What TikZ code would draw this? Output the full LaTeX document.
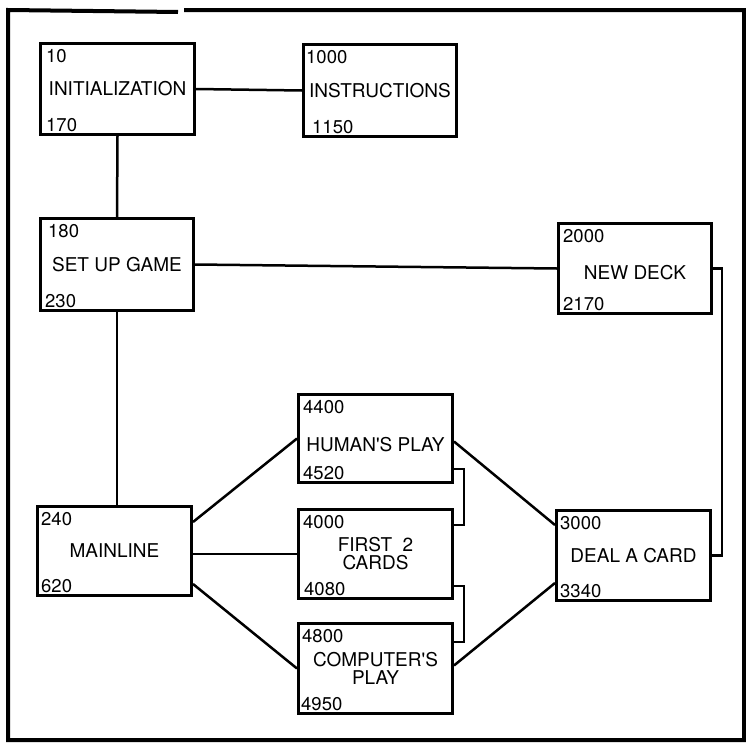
\documentclass[tikz,border=0pt]{standalone}
\usepackage{fontspec}
\setmainfont{TeX Gyre Heros}
\newcommand\boxnums[5]{%
  \node[num] (#1t) at ([shift={(#4,20)}]#1.north west) {#2};
  \node[num] (#1b) at ([shift={(#5,-5)}]#1.south west) {#3};}
\begin{document}
\begin{tikzpicture}[x=1pt,y=-1pt,
  blk/.style={draw, line width=3pt, inner sep=0pt, align=center,
    font=\fontsize{19}{18}\selectfont},
  num/.style={inner sep=0pt, anchor=base west, font=\fontsize{18.5}{18}\selectfont},
  conn/.style={line width=2.5pt}]
\useasboundingbox (0,0) rectangle (746,744);
% frame
\draw[line width=4pt] (184,10) -- (744,10) -- (744,740) -- (8,740) -- (8,10) -- (178,12);
% boxes
\node[blk, minimum width=154pt, minimum height=91pt] (init) at (117.5,89) {INITIALIZATION};
\node[blk, minimum width=153pt, minimum height=92pt] (instr) at (380,90.5) {INSTRUCTIONS};
\node[blk, minimum width=153pt, minimum height=92pt] (setup) at (117,264.5) {SET UP GAME};
\node[blk, minimum width=153pt, minimum height=90pt, text depth=0pt] (newdeck) at (635,268.5) {\raisebox{-8pt}{NEW DECK}};
\node[blk, minimum width=154pt, minimum height=89pt] (mainline) at (114.5,551) {MAINLINE};
\node[blk, minimum width=154pt, minimum height=88pt, text depth=0pt] (human) at (375.5,438.5) {\raisebox{-12pt}{HUMAN\textquotesingle S PLAY}};
\node[blk, minimum width=154pt, minimum height=89pt] (first) at (375.5,554) {FIRST\ \ 2\\CARDS};
\node[blk, minimum width=154pt, minimum height=90pt] (computer) at (375.5,668.5) {COMPUTER\textquotesingle S\\PLAY};
\node[blk, minimum width=154pt, minimum height=90pt] (deal) at (633.5,555.5) {DEAL A CARD};
% line numbers
\boxnums{init}{10}{170}{7}{7}
\boxnums{instr}{1000}{1150}{4}{10}
\boxnums{setup}{180}{230}{9}{6}
\boxnums{newdeck}{2000}{2170}{6}{6}
\boxnums{mainline}{240}{620}{5}{5}
\boxnums{human}{4400}{4520}{6}{6}
\boxnums{first}{4000}{4080}{6}{7}
\boxnums{computer}{4800}{4950}{5}{4}
\boxnums{deal}{3000}{3340}{5}{5}
% connectors
\draw[conn] (init.east) -- (instr.west);
\draw[conn] (init.south) -- (setup.north);
\draw[conn] (setup.east) -- (newdeck.west);
\draw[conn] (setup.south) -- (setup.south |- mainline.north);
\draw[conn] ([yshift=-17pt]mainline.north east) -- (human.west);
\draw[conn] (first.west) -- (first.west -| mainline.east);
\draw[conn] ([yshift=13pt]mainline.south east) -- (computer.west);
\draw[conn] ([yshift=-3pt]human.east) -- ([yshift=-16pt]deal.north west);
\draw[conn] ([yshift=3pt]computer.east) -- ([yshift=19pt]deal.south west);
\draw[conn] ([yshift=15pt]human.south east) -- ++(10,0) |- ([yshift=-17pt]first.north east);
\draw[conn] ([yshift=14pt]first.south east) -- ++(10,0) |- ([yshift=-20pt]computer.north east);
\draw[conn] (deal.east) -- ++(10,0) |- (newdeck.east);
\end{tikzpicture}
\end{document}
